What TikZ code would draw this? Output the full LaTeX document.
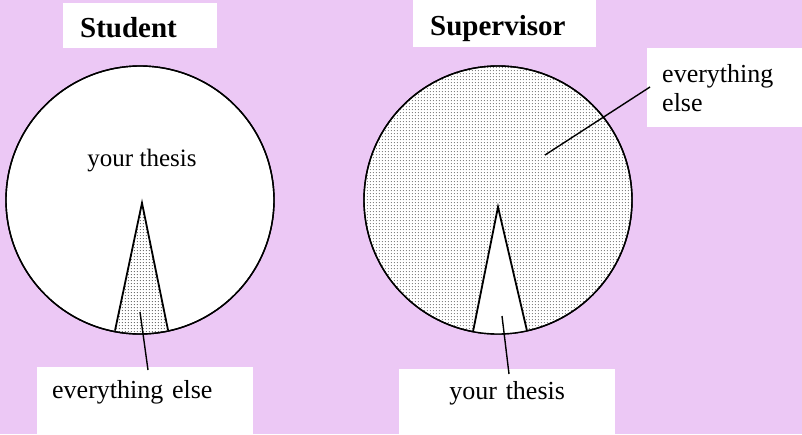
\documentclass[tikz,border=0pt]{standalone}
\usepackage{fontspec}
\setmainfont{Liberation Serif}
\usetikzlibrary{patterns.meta}
\definecolor{bg}{RGB}{236,200,245}
\tikzdeclarepattern{
  name=mydots,
  type=uncolored,
  bounding box={(0,0) and (3.3pt,3.3pt)},
  tile size={(3.3pt,3.3pt)},
  code={\pgfpathcircle{\pgfqpoint{1.65pt}{1.65pt}}{0.6pt}\pgfusepath{fill}}
}
\begin{document}
\begin{tikzpicture}[x=1pt,y=-1pt,
  titlebox/.style={fill=white, anchor=north west, font=\fontsize{29}{32}\selectfont\bfseries,
    text height=23pt, text depth=0pt, inner xsep=17pt, inner ysep=0pt, align=left},
  labelbox/.style={fill=white, anchor=north west, font=\fontsize{26}{29}\selectfont,
    inner xsep=15pt, inner ysep=0pt},
  pie/.style={circle, draw=black, line width=1.4pt, minimum size=268pt, inner sep=0pt},
  wedgeline/.style={line width=1.8pt, line join=miter},
  leader/.style={line width=1.4pt},
  dotfill/.style={pattern=mydots, pattern color=black!85}]
\fill[bg] (0,0) rectangle (802,434);
\useasboundingbox (0,0) rectangle (802,434);

% titles
\node[titlebox, minimum width=154pt, minimum height=45pt, text width=120pt] (tstu) at (63,3) {Student};
\node[titlebox, minimum width=183pt, minimum height=47pt, text width=149pt] (tsup) at (413,0) {Supervisor};

% ---------- Student pie ----------
\node[pie, fill=white] (sc) at (140,200) {};
\coordinate (sapex) at (142,203);
\coordinate (sbl) at (115,330.6);
\coordinate (sbr) at (168,330);
\begin{scope}
  \clip (140,200) circle[radius=134pt];
  \fill[dotfill] (sapex) -- (88,458) -- (194,457) -- cycle;
\end{scope}
\draw[wedgeline] (sbl) -- (sapex) -- (sbr);
\node[pie] at (140,200) {};
\node[font=\fontsize{25}{30}\selectfont, anchor=base, inner sep=0pt] (sthesis) at (142,166) {your thesis};

% ---------- Supervisor pie ----------
\node[pie, fill=white] (pc) at (498,200) {};
\begin{scope}
  \clip (498,200) circle[radius=134pt];
  \fill[dotfill] (498,200) circle[radius=140pt];
  \fill[white] (498,207) -- (448,463) -- (556,461) -- cycle;
\end{scope}
\coordinate (papex) at (498,207);
\coordinate (pbl) at (473,331.6);
\coordinate (pbr) at (527,330.8);
\draw[wedgeline] (pbl) -- (papex) -- (pbr);
\node[pie] at (498,200) {};

% ---------- label boxes ----------
\node[labelbox, minimum width=216pt, minimum height=67pt, text width=186pt,
  text height=18pt, text depth=23pt, align=left] (sel) at (37,367) {everything else};
\node[labelbox, minimum width=216pt, minimum height=65pt, text width=186pt,
  text height=18pt, text depth=23pt, align=center] (pth) at (399,369) {your thesis};
\node[labelbox, minimum width=170pt, minimum height=79pt, text width=140pt,
  align=left] (pel) at (647,48) {everything\\else};

% ---------- leaders ----------
\coordinate (l1a) at (140,312);
\coordinate (l1b) at (148,370);
\draw[leader] (l1a) -- (l1b);
\coordinate (l2a) at (502,316);
\coordinate (l2b) at (509,374);
\draw[leader] (l2a) -- (l2b);
\coordinate (l3a) at (545,155);
\coordinate (l3b) at (650,87);
\draw[leader] (l3a) -- (l3b);
\end{tikzpicture}
\end{document}
